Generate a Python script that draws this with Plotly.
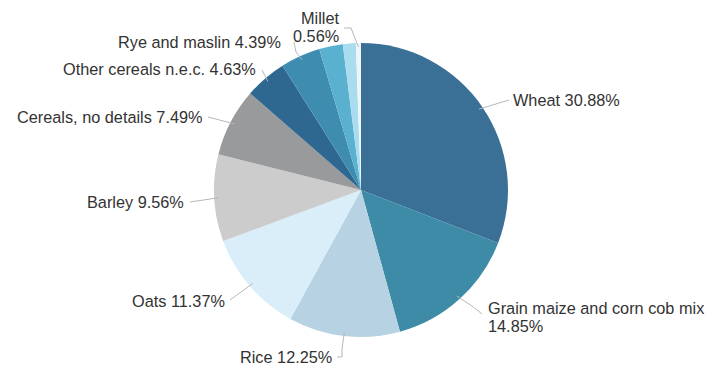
import numpy as np
import plotly.graph_objects as go

# ---- data ----
categories = ["Wheat", "Grain maize and corn cob mix", "Rice", "Oats", "Barley",
              "Cereals, no details", "Other cereals n.e.c.", "Rye and maslin",
              "Other (a)", "Other (b)", "Millet"]
shares = [30.88, 14.85, 12.25, 11.37, 9.56, 7.49, 4.63, 4.39, 2.60, 1.42, 0.56]
label_lines = [["Wheat 30.88%"], ["Grain maize and corn cob mix", "14.85%"], ["Rice 12.25%"],
               ["Oats 11.37%"], ["Barley 9.56%"], ["Cereals, no details 7.49%"],
               ["Other cereals n.e.c. 4.63%"], ["Rye and maslin 4.39%"], [], [],
               ["Millet", "0.56%"]]

colors = ["#3a6f96", "#3d8ba6", "#b7d3e3", "#d9eef9", "#cccccd", "#999a9c",
          "#2e6891", "#3e8db0", "#5ab0cf", "#a9dcef", "#eef6fa"]

W, H = 711, 369
cx, cy, R = 361, 190, 147
FONT = dict(family="Liberation Sans, Arial, sans-serif", size=16.3, color="#333333")
LINE_H = 18

# layout of labels (pixels): text anchor x, first-line y, xanchor, leader start point(s)
label_layout = [
    dict(x=511, y=100, xa="left", lead=[(509, 100)]),
    dict(x=486, y=308, xa="left", lead=[(482, 314), (472, 306)]),
    dict(x=334, y=357, xa="right", lead=[(337, 357), (342, 357), (342, 349)]),
    dict(x=227, y=301, xa="right", lead=[(230, 300)]),
    dict(x=186, y=202, xa="right", lead=[(190, 202)]),
    dict(x=205, y=117, xa="right", lead=[(208, 117)]),
    dict(x=258, y=69, xa="right", lead=[(262, 70)]),
    dict(x=283, y=42, xa="right", lead=[(294, 42), (296, 52)]),
    None,
    None,
    dict(x=341, y=18, xa="right", lead=[(344, 28), (351, 28)]),
]

fig = go.Figure(go.Pie(
    labels=categories, values=shares, sort=False, direction="clockwise", rotation=0,
    marker=dict(colors=colors, line=dict(width=0)),
    textinfo="none", hoverinfo="label+percent", showlegend=False,
    domain=dict(x=[(cx - R) / W, (cx + R) / W],
                y=[(H - cy - R) / H, (H - cy + R) / H]),
))

vals = np.array(shares)
cum = np.cumsum(vals) / vals.sum()
mid = (cum - vals / vals.sum() / 2) * 2 * np.pi

def px(x, y):
    return x / W, 1 - y / H

annotations, shapes = [], []
for i, lay in enumerate(label_layout):
    if lay is None:
        continue
    ex = cx + (R - 4) * np.sin(mid[i])
    ey = cy - (R - 4) * np.cos(mid[i])
    for k, line in enumerate(label_lines[i]):
        ax_, ay_ = px(lay["x"], lay["y"] + k * LINE_H)
        annotations.append(dict(x=ax_, y=ay_, xref="paper", yref="paper", text=line,
                                showarrow=False, xanchor=lay["xa"], yanchor="middle",
                                font=FONT))
    pts = lay["lead"] + [(ex, ey)]
    path = "M " + " L ".join(f"{px(a, b)[0]:.5f},{px(a, b)[1]:.5f}" for a, b in pts)
    shapes.append(dict(type="path", xref="paper", yref="paper", path=path,
                       line=dict(color="#b8b8b8", width=1)))

fig.update_layout(
    width=W, height=H, margin=dict(l=0, r=0, t=0, b=0),
    paper_bgcolor="white", plot_bgcolor="white",
    annotations=annotations, shapes=shapes,
)
fig.write_html("out.html", config={"displayModeBar": False},
               post_script="document.body.style.margin='0px';")
